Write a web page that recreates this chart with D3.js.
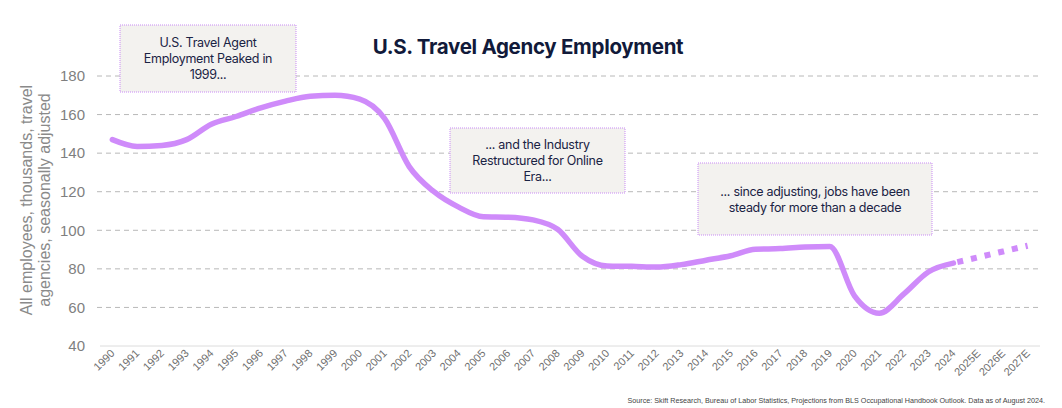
<!DOCTYPE html>
<html>
<head>
<meta charset="utf-8">
<script src="https://cdn.jsdelivr.net/npm/d3@7"></script>
<style>
  body { margin: 0; background: #fff; }
  svg { display: block; }
</style>
</head>
<body>
<div id="chart"></div>
<script>
var years = ['1990', '1991', '1992', '1993', '1994', '1995', '1996', '1997', '1998', '1999',
  '2000', '2001', '2002', '2003', '2004', '2005', '2006', '2007', '2008', '2009',
  '2010', '2011', '2012', '2013', '2014', '2015', '2016', '2017', '2018', '2019',
  '2020', '2021', '2022', '2023', '2024'];
var projYears = ['2024', '2025E', '2026E', '2027E'];

// thousands of employees
var employment = [147, 143.5, 144, 147, 155, 159, 163.5, 167, 169.5, 170,
  168, 158, 133, 120, 112, 107, 106.8, 105.4, 100.5, 86.5,
  81.5, 81.3, 80.9, 82.2, 84.5, 86.8, 90.2, 90.5, 91.3, 91.6,
  66, 57, 67, 78.5, 83];
var projection = [83, 86, 89, 92];

var yTicks = [40, 60, 80, 100, 120, 140, 160, 180];

var notes = [
  { lines: ['U.S. Travel Agent', 'Employment Peaked in', '1999...'], x: 120, y: 25, w: 176, h: 67 },
  { lines: ['... and the Industry', 'Restructured for Online', 'Era...'], x: 450, y: 128, w: 175, h: 65 },
  { lines: ['... since adjusting, jobs have been', 'steady for more than a decade'], x: 698, y: 163, w: 234, h: 72 }
];

var width = 1062, height = 408;
var allCats = years.concat(projYears.slice(1));

var svg = d3.select('#chart').append('svg')
  .attr('width', width)
  .attr('height', height);

var x = d3.scaleBand().domain(allCats).range([100, 1040]).padding(0);
var y = d3.scaleLinear().domain([40, 180]).range([346, 76]);
var cx = function(c) { return x(c) + x.bandwidth() / 2; };

// grid
svg.append('g').selectAll('line')
  .data(yTicks.filter(function(d) { return d > 40; }))
  .join('line')
  .attr('x1', 97).attr('x2', 1040)
  .attr('y1', function(d) { return y(d); })
  .attr('y2', function(d) { return y(d); })
  .attr('stroke', '#b8b8b8')
  .attr('stroke-width', 1)
  .attr('stroke-dasharray', '5,4');

svg.append('line')
  .attr('x1', 100).attr('x2', 1040)
  .attr('y1', y(40)).attr('y2', y(40))
  .attr('stroke', '#dcdcdc');

// y tick labels
svg.append('g').selectAll('text')
  .data(yTicks)
  .join('text')
  .attr('x', 85)
  .attr('y', function(d) { return y(d); })
  .attr('dy', '0.35em')
  .attr('text-anchor', 'end')
  .attr('font-family', 'Liberation Sans, Arial, sans-serif')
  .attr('font-size', 15)
  .attr('fill', '#7f7f7f')
  .text(function(d) { return d; });

// x tick labels
svg.append('g').selectAll('text')
  .data(allCats)
  .join('text')
  .attr('transform', function(d) { return 'translate(' + (cx(d) + 3) + ',354) rotate(-45)'; })
  .attr('text-anchor', 'end')
  .attr('font-family', 'Liberation Sans, Arial, sans-serif')
  .attr('font-size', 11)
  .attr('fill', '#6f6f6f')
  .text(function(d) { return d; });

// y axis title
var yTitle = svg.append('text')
  .attr('transform', 'translate(32,200) rotate(-90)')
  .attr('text-anchor', 'middle')
  .attr('font-family', 'Liberation Sans, Arial, sans-serif')
  .attr('font-size', 16)
  .attr('fill', '#8a8a8a');
yTitle.append('tspan').attr('x', 0).attr('dy', 0).text('All employees, thousands, travel');
yTitle.append('tspan').attr('x', 0).attr('dy', 18).text('agencies, seasonally adjusted');

// line
var line = d3.line()
  .x(function(d) { return cx(d[0]); })
  .y(function(d) { return y(d[1]); })
  .curve(d3.curveMonotoneX);

svg.append('path')
  .datum(d3.zip(years, employment))
  .attr('d', line)
  .attr('fill', 'none')
  .attr('stroke', '#cf8bfa')
  .attr('stroke-width', 5.5)
  .attr('stroke-linejoin', 'round')
  .attr('stroke-linecap', 'round');

svg.append('path')
  .datum(d3.zip(projYears, projection))
  .attr('d', line)
  .attr('fill', 'none')
  .attr('stroke', '#cf8bfa')
  .attr('stroke-width', 6)
  .attr('stroke-dasharray', '0,4,6,4');

// title
svg.append('text')
  .attr('x', 528)
  .attr('y', 54)
  .attr('text-anchor', 'middle')
  .attr('font-family', 'Inter, sans-serif')
  .attr('font-weight', 700)
  .attr('font-size', 20.5)
  .attr('letter-spacing', -0.3)
  .attr('fill', '#111a3a')
  .text('U.S. Travel Agency Employment');

// annotation boxes
var note = svg.append('g').selectAll('g')
  .data(notes)
  .join('g');

note.append('rect')
  .attr('x', function(d) { return d.x; })
  .attr('y', function(d) { return d.y; })
  .attr('width', function(d) { return d.w; })
  .attr('height', function(d) { return d.h; })
  .attr('fill', '#f3f2ef')
  .attr('stroke', '#c98af5')
  .attr('stroke-width', 1)
  .attr('stroke-dasharray', '1,1');

note.each(function(d) {
  var t = d3.select(this).append('text')
    .attr('text-anchor', 'middle')
    .attr('font-family', 'Inter, sans-serif')
    .attr('font-size', 12.5)
    .attr('letter-spacing', -0.3)
    .attr('fill', '#1a2344');
  var top = d.y + d.h / 2 - (d.lines.length - 1) * 8 + 4.5;
  d.lines.forEach(function(s, i) {
    t.append('tspan')
      .attr('x', d.x + d.w / 2)
      .attr('y', top + i * 16)
      .text(s);
  });
});

// source
svg.append('text')
  .attr('x', 1045)
  .attr('y', 403)
  .attr('text-anchor', 'end')
  .attr('font-family', 'Liberation Sans, Arial, sans-serif')
  .attr('font-size', 7.2)
  .attr('fill', '#444')
  .text('Source: Skift Research, Bureau of Labor Statistics, Projections from BLS Occupational Handbook Outlook. Data as of August 2024.');
</script>
</body>
</html>
